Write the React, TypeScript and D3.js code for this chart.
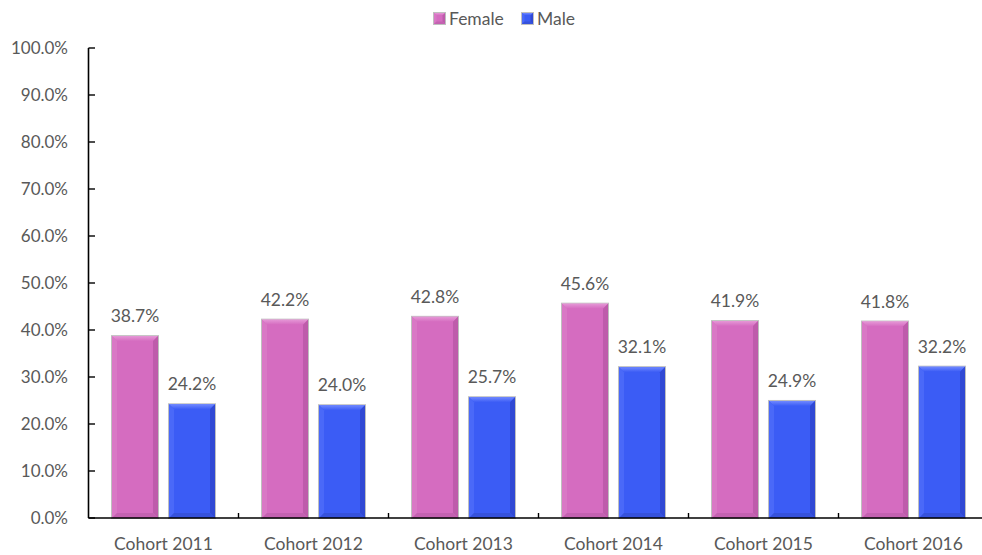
import React from "react";
import * as d3 from "d3";

const categories = ["Cohort 2011", "Cohort 2012", "Cohort 2013", "Cohort 2014", "Cohort 2015", "Cohort 2016"];
const seriesNames = ["Female", "Male"];
const femaleValues = [0.387, 0.422, 0.428, 0.456, 0.419, 0.418];
const maleValues = [0.242, 0.24, 0.257, 0.321, 0.249, 0.322];
const yTicks = [0, 0.1, 0.2, 0.3, 0.4, 0.5, 0.6, 0.7, 0.8, 0.9, 1.0];

const W = 982;
const H = 555;
const FONT = "Lato, 'Open Sans', sans-serif";
const TEXT = "#595959";

const palettes: Record<string, { main: string; top: string; left: string; right: string; bottom: string }> = {
  Female: { main: "#D56CC0", top: "#E597D6", left: "#D978C5", right: "#BE5CAB", bottom: "#C462B1" },
  Male: { main: "#3B5CF5", top: "#7189FF", left: "#4A69F8", right: "#3049D4", bottom: "#3652DC" },
};

function BevelBar({ x, y, w, h, name, b }: { x: number; y: number; w: number; h: number; name: string; b: number }) {
  const p = palettes[name];
  const bb = Math.min(b, h / 2, w / 2);
  const pts = (arr: number[][]) => arr.map((a) => a.join(",")).join(" ");
  return (
    <g>
      <rect x={x - 0.5} y={y - 0.5} width={w + 1} height={h + 1} fill="none" stroke="rgba(0,0,0,0.25)" strokeWidth={1} />
      <rect x={x} y={y} width={w} height={h} fill={p.main} />
      <polygon points={pts([[x, y], [x + w, y], [x + w - bb, y + bb], [x + bb, y + bb]])} fill={`url(#top-${name})`} />
      <polygon points={pts([[x, y], [x + bb, y + bb], [x + bb, y + h - bb], [x, y + h]])} fill={p.left} />
      <polygon points={pts([[x + w, y], [x + w - bb, y + bb], [x + w - bb, y + h - bb], [x + w, y + h]])} fill={p.right} />
      <polygon points={pts([[x, y + h], [x + bb, y + h - bb], [x + w - bb, y + h - bb], [x + w, y + h]])} fill={p.bottom} />
    </g>
  );
}

export default function App() {
  const x0 = d3.scaleBand<string>().domain(categories).range([88.5, 988.5]).paddingInner(0).paddingOuter(0);
  const x1 = d3.scaleBand<string>().domain(seriesNames).range([23.5, 126.5]).paddingInner(0.193).paddingOuter(0);
  const y = d3.scaleLinear().domain([0, 1]).range([518, 48]);
  const fmt = d3.format(".1%");
  const data: Record<string, number[]> = { Female: femaleValues, Male: maleValues };

  const boundaries = categories.map((c) => (x0(c) as number) + x0.bandwidth()).slice(0, -1);

  const legendItems = [
    { name: "Female", sx: 434, tx: 449 },
    { name: "Male", sx: 522, tx: 537 },
  ];

  return (
    <svg width={W} height={H} style={{ position: "absolute", left: 0, top: 0, background: "#fff" }} fontFamily={FONT}>
      <defs>
        {seriesNames.map((s) => (
          <linearGradient key={s} id={`top-${s}`} x1="0" y1="0" x2="0" y2="1">
            <stop offset="0" stopColor={palettes[s].top} />
            <stop offset="1" stopColor={palettes[s].main} />
          </linearGradient>
        ))}
      </defs>
      <rect x={0} y={0} width={W} height={H} fill="#fff" />
      {legendItems.map((it) => (
        <g key={it.name}>
          <BevelBar x={it.sx} y={13} w={11} h={11} name={it.name} b={2.5} />
          <text x={it.tx} y={25} fontSize={17.5} fill={TEXT}>
            {it.name}
          </text>
        </g>
      ))}
      <line x1={88.5} x2={88.5} y1={y(1)} y2={y(0)} stroke="#000" strokeWidth={1.6} />
      {yTicks.map((t) => (
        <g key={t}>
          <line x1={88.5} x2={95} y1={y(t)} y2={y(t)} stroke="#000" strokeWidth={1.4} />
          <text x={68} y={y(t) + 6} textAnchor="end" fontSize={17} fill={TEXT}>
            {fmt(t)}
          </text>
        </g>
      ))}
      {categories.map((c, i) => (
        <g key={c}>
          {seriesNames.map((s) => {
            const v = data[s][i];
            const bx = (x0(c) as number) + (x1(s) as number);
            const by = y(v);
            const bw = x1.bandwidth();
            const bh = y(0) - by;
            return (
              <g key={s}>
                <BevelBar x={bx} y={by} w={bw} h={bh} name={s} b={5} />
                <text x={bx + bw / 2} y={by - 14} textAnchor="middle" fontSize={17.5} fill={TEXT}>
                  {fmt(v)}
                </text>
              </g>
            );
          })}
          <text x={(x0(c) as number) + x0.bandwidth() / 2} y={550} textAnchor="middle" fontSize={17.5} fill={TEXT}>
            {c}
          </text>
        </g>
      ))}
      <line x1={88.5} x2={988.5} y1={y(0)} y2={y(0)} stroke="#000" strokeWidth={1.6} />
      {boundaries.map((b, i) => (
        <line key={i} x1={b} x2={b} y1={y(0)} y2={y(0) - 5} stroke="#000" strokeWidth={1.4} />
      ))}
    </svg>
  );
}
